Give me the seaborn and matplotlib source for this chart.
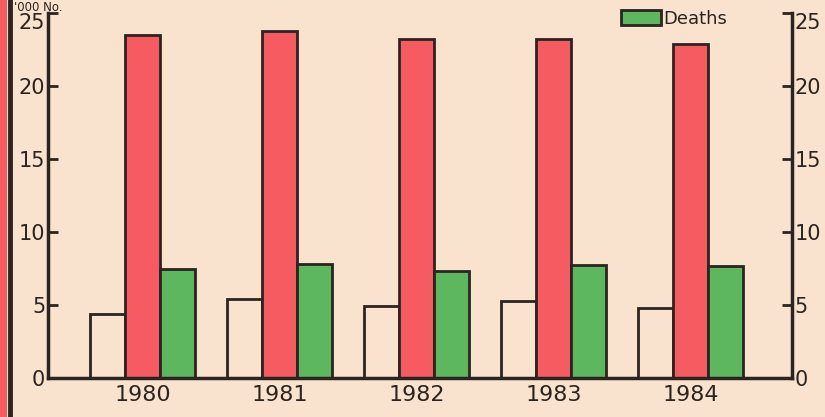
import numpy as np
import pandas as pd
import seaborn as sns
import matplotlib.pyplot as plt
from matplotlib.patches import Rectangle, Patch
from matplotlib.lines import Line2D

# ---- data (thousands) ----
years = ['1980', '1981', '1982', '1983', '1984']
series = ['Other', 'Cases', 'Deaths']
other_vals = [4.4, 5.4, 4.9, 5.3, 4.8]
cases_vals = [23.5, 23.8, 23.2, 23.2, 22.9]
deaths_vals = [7.45, 7.8, 7.3, 7.75, 7.65]
y_ticks = [0, 5, 10, 15, 20, 25]

BG = '#F9E2CE'
RED = '#F55B60'
GREEN = '#5DB75E'
INK = '#2B2420'

df = pd.DataFrame({
    'year': years * 3,
    'series': [series[0]] * 5 + [series[1]] * 5 + [series[2]] * 5,
    'value': other_vals + cases_vals + deaths_vals,
})

sns.set_style('white')
plt.rcParams['font.family'] = ['DejaVu Sans']

fig = plt.figure(figsize=(8.25, 4.17), dpi=100, facecolor=BG)
top_px = 13
ax = fig.add_axes([48 / 825, 1 - 378 / 417, (792 - 48) / 825, (378 - top_px) / 417])
ax.set_facecolor(BG)

sns.barplot(data=df, x='year', y='value', hue='series', hue_order=series,
            palette=[BG, RED, GREEN], saturation=1, width=0.77,
            edgecolor=INK, linewidth=2, legend=False, ax=ax)

ax.set_xlim(-0.69, 4.74)
ax.set_ylim(0, 25)
ax.set_yticks(y_ticks)
ax.set_xlabel('')
ax.set_ylabel('')

for s in ['left', 'right', 'bottom']:
    ax.spines[s].set_visible(True)
    ax.spines[s].set_color(INK)
    ax.spines[s].set_linewidth(2.5)
ax.spines['top'].set_visible(False)

ax.tick_params(axis='y', which='both', direction='in', left=True, right=True,
               labelleft=True, labelright=True, length=7, width=2,
               color=INK, labelcolor=INK, labelsize=15, pad=2)
ax.tick_params(axis='x', length=0, labelsize=16, labelcolor=INK, pad=5)

# the top labels sit just below the axis top, as in the original
fig.canvas.draw()
for tk in ax.yaxis.get_major_ticks():
    if tk.get_loc() == 25:
        tk.label1.set_verticalalignment('top')
        tk.label2.set_verticalalignment('top')

# legend entry at the top right
fig.legend(handles=[Patch(facecolor=GREEN, edgecolor=INK, linewidth=2)],
           labels=['Deaths'], loc='upper left', frameon=False,
           bbox_to_anchor=(612 / 825, 1 - 1 / 417), bbox_transform=fig.transFigure,
           fontsize=13, handlelength=2.2, handleheight=0.9, handletextpad=0.15,
           borderpad=0, labelcolor=INK)

# unit label at top-left
fig.text(14 / 825, 1 - 1 / 417, "'000 No.", fontsize=8.5, color=INK,
         ha='left', va='top')

# scan edge artefacts on the left
fig.add_artist(Rectangle((0, 0), 7 / 825, 1, transform=fig.transFigure,
                         facecolor=RED, edgecolor='none'))
fig.add_artist(Line2D([10 / 825, 10 / 825], [0, 1], transform=fig.transFigure,
                      color=INK, linewidth=3.5))

fig.savefig('out.png', dpi=100, facecolor=BG)
